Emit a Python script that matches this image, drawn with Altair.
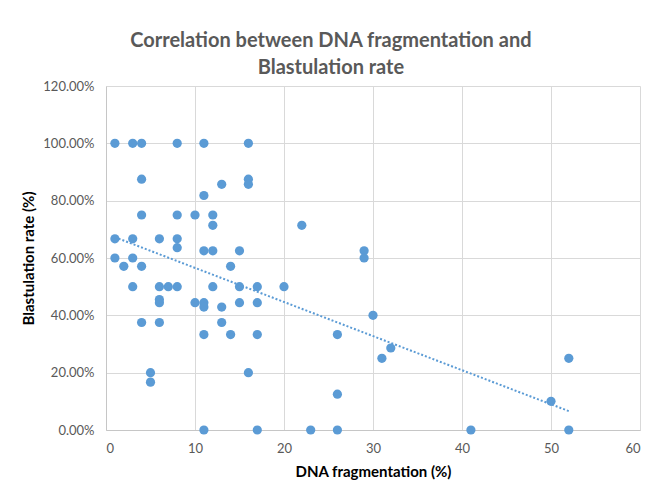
import altair as alt
import pandas as pd

# DNA fragmentation (%) and blastulation rate (fraction)
dna = [
    1, 1, 1,
    2,
    3, 3, 3, 3,
    4, 4, 4, 4, 4,
    5, 5,
    6, 6, 6, 6, 6,
    7,
    8, 8, 8, 8, 8,
    10, 10,
    11, 11, 11, 11, 11, 11, 11,
    12, 12, 12, 12,
    13, 13, 13,
    14, 14,
    15, 15, 15,
    16, 16, 16, 16,
    17, 17, 17, 17,
    20,
    22,
    23,
    26, 26, 26,
    29, 29,
    30,
    31,
    32,
    41,
    50,
    52, 52,
]
rate = [
    1.0, 0.667, 0.60,
    0.571,
    1.0, 0.667, 0.60, 0.50,
    1.0, 0.875, 0.75, 0.571, 0.375,
    0.20, 0.167,
    0.667, 0.50, 0.455, 0.444, 0.375,
    0.50,
    1.0, 0.75, 0.667, 0.636, 0.50,
    0.75, 0.444,
    1.0, 0.818, 0.625, 0.444, 0.429, 0.333, 0.0,
    0.75, 0.714, 0.625, 0.50,
    0.857, 0.429, 0.375,
    0.571, 0.333,
    0.625, 0.50, 0.444,
    1.0, 0.875, 0.857, 0.20,
    0.50, 0.444, 0.333, 0.0,
    0.50,
    0.714,
    0.0,
    0.333, 0.125, 0.0,
    0.625, 0.60,
    0.40,
    0.25,
    0.286,
    0.0,
    0.10,
    0.25, 0.0,
]

x_ticks = [0, 10, 20, 30, 40, 50, 60]
y_ticks = [0, 0.2, 0.4, 0.6, 0.8, 1.0, 1.2]

df = pd.DataFrame({"dna": dna, "rate": rate})

BLUE = "#5b9bd5"
FONT = "Lato"

xenc = alt.X(
    "dna:Q",
    scale=alt.Scale(domain=[0, 60], nice=False),
    axis=alt.Axis(values=x_ticks, title="DNA fragmentation (%)"),
)
yenc = alt.Y(
    "rate:Q",
    scale=alt.Scale(domain=[0, 1.2], nice=False),
    axis=alt.Axis(values=y_ticks, format=".2%", title="Blastulation rate (%)"),
)

points = alt.Chart(df).mark_circle(size=85, color=BLUE, opacity=1).encode(x=xenc, y=yenc)

trend = (
    alt.Chart(df)
    .transform_regression("dna", "rate", method="linear")
    .mark_line(color=BLUE, strokeWidth=2, strokeDash=[2, 2])
    .encode(x="dna:Q", y="rate:Q")
)

chart = (
    alt.layer(points, trend)
    .properties(
        width=534,
        height=344,
        autosize=alt.AutoSizeParams(type="none"),
        padding={"left": 98, "top": 78, "right": 18, "bottom": 63},
        title=alt.TitleParams(
            text=["Correlation between DNA fragmentation and", "Blastulation rate"],
            fontSize=20,
            font=FONT,
            fontWeight="bold",
            color="#595959",
            anchor="middle",
            frame="bounds",
            lineHeight=27,
            offset=2,
        ),
    )
    .configure_view(stroke=None)
    .configure_axis(
        gridColor="#d9d9d9",
        domainColor="#c6c6c6",
        ticks=False,
        labelFont=FONT,
        labelFontSize=13,
        labelColor="#595959",
        labelPadding=12,
        titleFont=FONT,
        titleFontSize=15,
        titleFontWeight="bold",
        titleColor="#000000",
    )
    .configure_axisX(titlePadding=9)
    .configure_axisY(titlePadding=6)
)

chart.save("out.html", embed_options={"renderer": "svg", "actions": False})
